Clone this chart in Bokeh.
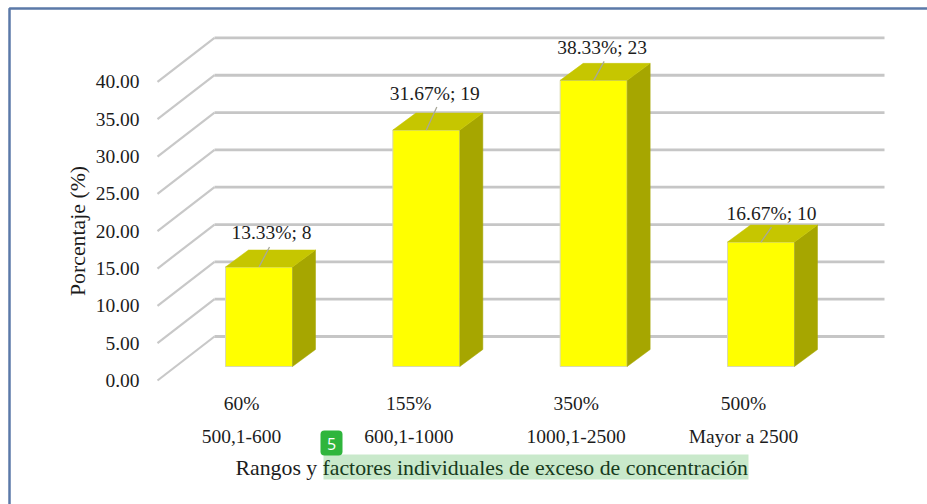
from bokeh.plotting import figure
from bokeh.models import (BoxAnnotation, FixedTicker, Label, LinearAxis, NumeralTickFormatter)
from bokeh.embed import file_html
from bokeh.resources import INLINE

# ---- data ----
ranges = ["500,1-600", "600,1-1000", "1000,1-2500", "Mayor a 2500"]
factors = ["60%", "155%", "350%", "500%"]
percent = [13.33, 31.67, 38.33, 16.67]
counts = [8, 19, 23, 10]
y_ticks = [0, 5, 10, 15, 20, 25, 30, 35, 40]

# ---- geometry (data units of the two scales) ----
PX_X = 167.33          # pixels per category
PX_Y = 7.465           # pixels per percent
X0, Y0 = 258.5, 380.0  # picture pixel of x=0 and y=0


def dx(px):
    return (px - X0) / PX_X


def dy(px):
    return (Y0 - px) / PX_Y


W, H = 927, 504

p = figure(width=W, height=H, output_backend="svg", toolbar_location=None,
           x_range=(dx(0), dx(W)), y_range=(dy(H), dy(0)),
           min_border_left=0, min_border_right=0, min_border_top=0, min_border_bottom=0,
           background_fill_color="white", border_fill_color="white", outline_line_color=None)
p.grid.visible = False

SERIF = "Liberation Serif"
INK = "#1c1c1c"
TICK_SIZE = "19.5px"
TITLE_SIZE = "21.8px"

# ---- walls: gridlines run from the front plane to the back and across ----
wall_dx, wall_dy = 57 / PX_X, 44 / PX_Y
x_front, x_end = dx(157), dx(884)
for t in y_ticks:
    p.line([x_front, x_front + wall_dx], [t, t + wall_dy], line_color="#c8c8c8", line_width=2.2)
    p.line([x_front + wall_dx, x_end], [t + wall_dy, t + wall_dy], line_color="#c6c6c6", line_width=2.8)

# ---- bars ----
half = 33.5 / PX_X
base = 14 / PX_Y
side_dx, side_dy = 23 / PX_X, 17 / PX_Y
xs = list(range(len(percent)))
tops = [base + v for v in percent]

p.quad(left=[x - half for x in xs], right=[x + half for x in xs], bottom=[base] * 4, top=tops,
       fill_color="#ffff00", line_color="#d9d9b0", line_width=1)
p.patches([[x + half, x + half + side_dx, x + half + side_dx, x + half] for x in xs],
          [[base, base + side_dy, t + side_dy, t] for t in tops],
          fill_color="#a6a600", line_color="#a6a600", line_width=0.5)
p.patches([[x - half, x - half + side_dx, x + half + side_dx, x + half] for x in xs],
          [[t, t + side_dy, t + side_dy, t] for t in tops],
          fill_color="#c6c600", line_color="#c6c600", line_width=0.5)

# ---- data labels with leader lines ----
label_shift = [12.5 / PX_X, 8.5 / PX_X, 8.5 / PX_X, 10.5 / PX_X]
label_lift = [34 / PX_Y, 37 / PX_Y, 33 / PX_Y, 29 / PX_Y]
for x, t, v, n, lift, shift in zip(xs, tops, percent, counts, label_lift, label_shift):
    p.line([x, x + 10.5 / PX_X], [t, t + lift - 14 / PX_Y], line_color="#a8a89a", line_width=1.3)
    p.add_layout(Label(x=x + shift, y=t + lift, text=f"{v:.2f}%; {n}", text_font=SERIF,
                       text_font_size=TICK_SIZE, text_color=INK, text_align="center",
                       text_baseline="middle"))

# ---- axes: drawn over the full-picture frame, so their labels stand inside it ----
p.yaxis.ticker = FixedTicker(ticks=y_ticks)
p.yaxis.formatter = NumeralTickFormatter(format="0.00")
p.yaxis.axis_line_color = None
p.yaxis.major_tick_line_color = None
p.yaxis.minor_tick_line_color = None
p.yaxis.major_label_text_font = SERIF
p.yaxis.major_label_text_font_size = TICK_SIZE
p.yaxis.major_label_text_color = INK
p.yaxis.major_label_standoff = -145

tick_shift = -17.5 / PX_X
tick_pos = [x + tick_shift for x in xs]


def style_x(axis, labels, standoff):
    axis.ticker = FixedTicker(ticks=tick_pos)
    axis.major_label_overrides = dict(zip(tick_pos, labels))
    axis.axis_line_color = None
    axis.major_tick_line_color = None
    axis.minor_tick_line_color = None
    axis.major_label_text_font = SERIF
    axis.major_label_text_font_size = TICK_SIZE
    axis.major_label_text_color = INK
    axis.major_label_standoff = standoff


style_x(p.xaxis[0], factors, -118)
second = LinearAxis()
style_x(second, ranges, -85)
p.add_layout(second, "below")


# ---- axis titles and the page's annotations ----
def page_label(x, y, text, **kw):
    p.add_layout(Label(x=dx(x), y=dy(y), text=text, text_baseline="middle", **kw))


def page_box(left, right, top, bottom, **kw):
    p.add_layout(BoxAnnotation(left=dx(left), right=dx(right), top=dy(top), bottom=dy(bottom), **kw))


page_label(77, 230.5, "Porcentaje (%)", angle=90, angle_units="deg", text_font=SERIF,
           text_font_size=TITLE_SIZE, text_color=INK, text_align="center")
page_box(323, 748, 454, 479, fill_color="#c9e9cb", fill_alpha=1, line_color=None)
page_label(235, 467, "Rangos y", text_font=SERIF, text_font_size=TITLE_SIZE, text_color=INK,
           text_align="left")
page_label(322, 467, "factores individuales de exceso de concentración", text_font=SERIF,
           text_font_size=TITLE_SIZE, text_color="#173a1c", text_align="left")
page_box(320, 342, 430, 455, fill_color="#2fb53c", fill_alpha=1, line_color=None, border_radius=4)
page_label(331, 443, "5", text_font="Open Sans", text_font_size="16px", text_color="white",
           text_align="center")

# ---- page frame: left and top edges, the others run off the picture ----
page_box(9, 1000, 8, 600, fill_alpha=0, line_color="#5b79a8", line_alpha=1, line_width=2.5)

open("out.html", "w").write(file_html(p, INLINE))
